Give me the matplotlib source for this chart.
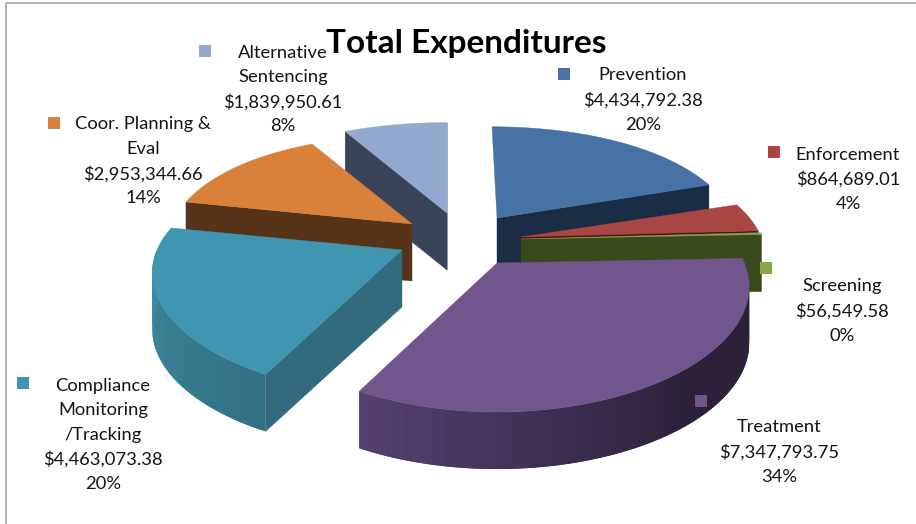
"""Total Expenditures exploded 3D pie, drawn with polygons in a small perspective projection."""
import matplotlib
matplotlib.use('Agg')
import matplotlib.pyplot as plt
import numpy as np
from matplotlib.patches import Polygon, Rectangle

categories = ['Prevention', 'Enforcement', 'Screening', 'Treatment',
              'Compliance Monitoring /Tracking', 'Coor. Planning & Eval', 'Alternative Sentencing']
values = [4434792.38, 864689.01, 56549.58, 7347793.75, 4463073.38, 2953344.66, 1839950.61]
percents = [20, 4, 0, 34, 20, 14, 8]
label_names = ['Prevention', 'Enforcement', 'Screening', 'Treatment',
               'Compliance\nMonitoring\n/Tracking', 'Coor. Planning &\nEval', 'Alternative\nSentencing']

top_colors = ['#4672a6', '#a84644', '#87a54e', '#70568c', '#4096b0', '#d9813b', '#93a9cf']
radial_colors = ['#1b2c45', '#4e1615', '#394a1b', '#2e2340', '#326b7e', '#573317', '#3a4458']
wall_light = ['#2a4366', '#672a29', '#50632e', '#554272', '#3f8ba3', '#824d23', '#58657c']
wall_dark = ['#1b2c45', '#4e1615', '#394a1b', '#2c2139', '#317082', '#573317', '#3a4458']

# apex of each exploded slice on the page, in pixels
apex = [(497, 218), (521, 237), (521, 239), (497, 263), (402, 250), (412, 224), (447, 213)]
scale = [0.97, 0.98, 0.99, 1.01, 1.0, 0.98, 1.0]
yscale = [1.04, 1, 1, 1, 0.98, 1, 1]
lean = [-5, 0, 0, 0, 0, 0, 0]
RX, RY, TAPER_X, TAPER_Y, DEPTH = 245, 119, 0.2, 0.24, 57

# label block centre x, first line y, marker centre
label_x = [643, 848, 842, 779, 103, 143, 283]
label_y = [74, 153, 285, 426, 384, 123, 51]
marker = [(564, 74), (774, 152), (766, 268), (701, 401), (23, 383), (54, 123), (205, 51)]
LINE_STEP = 24.6

plt.rcParams['font.family'] = ['Lato', 'DejaVu Sans']
fig = plt.figure(figsize=(9.16, 5.24), dpi=100)
ax = fig.add_axes([0, 0, 1, 1])
ax.set_xlim(0, 916)
ax.set_ylim(524, 0)
ax.axis('off')

fracs = np.array(values) / np.sum(values)
stops = np.concatenate([[0], np.cumsum(fracs)]) * 360


def project(i, ang, drop=0.0):
    # ang is clockwise from 12 o'clock, the far side of the disc shrinks
    a = np.radians(ang)
    x, y = np.sin(a), np.cos(a)
    sx = (1 - TAPER_X * y) * scale[i]
    sy = (1 - TAPER_Y * y) * scale[i] * yscale[i]
    return np.column_stack([apex[i][0] + RX * x * sx + lean[i] * y, apex[i][1] - RY * y * sy + drop])


def draw_slice(i, z):
    a0, a1 = stops[i], stops[i + 1]
    arc = np.linspace(a0, a1, 80)
    centre = np.array([[apex[i][0], apex[i][1]]], dtype=float)
    # cut faces, only the ones turned to the viewer
    for ang, visible in ((a0, np.sin(np.radians(a0)) < 0), (a1, np.sin(np.radians(a1)) > 0)):
        if visible:
            p = project(i, np.array([ang]))
            face = np.vstack([centre, p, p + [0, DEPTH], centre + [0, DEPTH]])
            ax.add_patch(Polygon(face, fc=radial_colors[i], ec=radial_colors[i], lw=0.3, zorder=z))
    # outer wall in thin strips for the shading
    lo, hi = max(a0, 90), min(a1, 270)
    if hi > lo:
        edges = np.linspace(lo, hi, 60)
        c0 = np.array(matplotlib.colors.to_rgb(wall_light[i]))
        c1 = np.array(matplotlib.colors.to_rgb(wall_dark[i]))
        for a, b in zip(edges[:-1], edges[1:]):
            # strips overlap the next one so no seams show through
            seg = np.linspace(a, min(b + (b - a), hi), 4)
            upper = project(i, seg)
            lower = project(i, seg, drop=DEPTH)
            t = np.clip((270 - a) / 62, 0, 1) if i == 4 else np.clip((208 - a) / 70, 0, 1)
            col = c0 * (1 - t) + c1 * t
            ax.add_patch(Polygon(np.vstack([upper, lower[::-1]]), fc=col, ec='none', zorder=z))
    top = np.vstack([centre, project(i, arc)])
    ax.add_patch(Polygon(top, fc=top_colors[i], ec=top_colors[i], lw=0.3, zorder=z + 0.5))


for z, i in enumerate([6, 5, 0, 1, 2, 4, 3]):
    draw_slice(i, z + 2)

# chart frame, only left and top edges show in the crop
ax.plot([5.5, 5.5, 916], [524, 2.5, 2.5], color='#a6a6a6', lw=1.2, zorder=1)

for i in range(len(categories)):
    lines = label_names[i].split('\n') + [f'${values[i]:,.2f}', f'{percents[i]}%']
    for n, line in enumerate(lines):
        ax.text(label_x[i], label_y[i] + n * LINE_STEP, line, ha='center', va='center_baseline',
                fontsize=13.2, color='#141414', zorder=20)
    mx, my = marker[i]
    ax.add_patch(Rectangle((mx - 6, my - 6), 12, 12, fc=top_colors[i], ec='none', zorder=20))

ax.text(466, 41, 'Total Expenditures', ha='center', va='center_baseline', fontsize=24,
        fontweight='bold', color='black', zorder=21)

plt.savefig('out.png', dpi=100)
plt.close()
